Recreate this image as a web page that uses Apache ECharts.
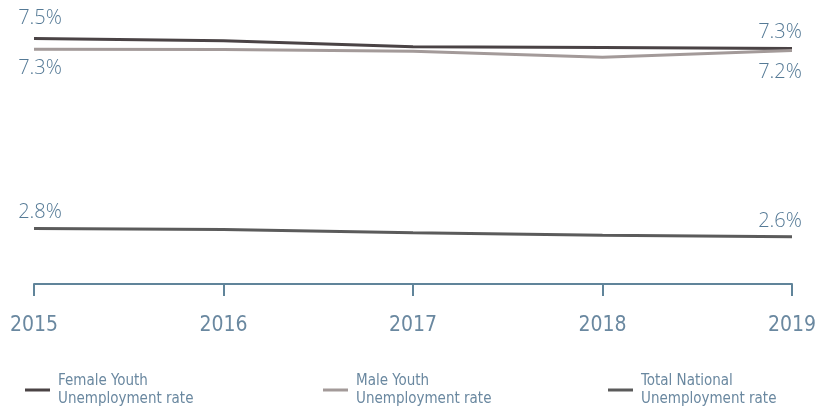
<!DOCTYPE html>
<html>
<head>
<meta charset="utf-8">
<script src="https://cdn.jsdelivr.net/npm/echarts@6/dist/echarts.min.js"></script>
<style>
  html, body { margin: 0; padding: 0; background: #fff; }
  #container { width: 816px; height: 407px; }
</style>
</head>
<body>
<div id="container"></div>
<script>
var years = ['2015', '2016', '2017', '2018', '2019'];
var femaleYouth = [7.54, 7.48, 7.33, 7.31, 7.29];
var maleYouth = [7.27, 7.26, 7.22, 7.07, 7.24];
var totalNational = [2.79, 2.76, 2.68, 2.62, 2.58];
var seriesNames = ['Female Youth\nUnemployment rate', 'Male Youth\nUnemployment rate', 'Total National\nUnemployment rate'];
var seriesColors = ['#4a4345', '#a39a99', '#5b5b5b'];

var labelColor = '#6a88a0';
var valueColor = '#557a96';
var axisColor = '#60849a';
var narrowFont = "'DejaVu Sans Condensed', 'Liberation Sans', sans-serif";

// only first and last point get a label
function pointData(values, where, gaps) {
    return values.map(function (v, i) {
        var item = { value: v };
        if (i === 0 || i === values.length - 1) {
            item.label = {
                show: true,
                position: where,
                distance: i === 0 ? gaps[0] : gaps[1],
                offset: [i === 0 ? 6 : -12, 0]
            };
        }
        return item;
    });
}

function makeSeries(idx, values, where, gaps) {
    return {
        name: seriesNames[idx],
        type: 'line',
        data: pointData(values, where, gaps),
        symbol: 'circle',
        symbolSize: 0,
        showSymbol: true,
        smooth: false,
        lineStyle: { width: 3, color: seriesColors[idx] },
        itemStyle: { color: seriesColors[idx] },
        label: {
            show: false,
            formatter: function (p) { return p.value.toFixed(1) + '%'; },
            color: valueColor,
            fontFamily: 'Open Sans',
            fontWeight: 300,
            fontSize: 20
        }
    };
}

function makeLegend(idx, left) {
    return {
        data: [seriesNames[idx]],
        left: left,
        top: 367,
        icon: 'rect',
        itemWidth: 25,
        itemHeight: 3,
        itemGap: 0,
        textStyle: {
            color: labelColor,
            fontFamily: narrowFont,
            fontSize: 15,
            lineHeight: 18,
            padding: [0, 0, 0, 3]
        },
        selectedMode: false
    };
}

var myChart = echarts.init(document.getElementById('container'));
var option = {
    animation: false,
    grid: { left: 34, right: 24, top: 20, bottom: 123, outerBoundsMode: 'none' },
    legend: [makeLegend(0, 20), makeLegend(1, 318), makeLegend(2, 603)],
    xAxis: {
        type: 'category',
        data: years,
        boundaryGap: false,
        axisLine: { lineStyle: { color: axisColor, width: 2 } },
        axisTick: { show: true, inside: false, length: 12, lineStyle: { color: axisColor, width: 2 } },
        axisLabel: {
            color: labelColor,
            fontFamily: narrowFont,
            fontSize: 21,
            margin: 31
        }
    },
    yAxis: {
        type: 'value',
        min: 1.4,
        max: 8.0,
        show: false,
        splitLine: { show: false }
    },
    series: [
        makeSeries(0, femaleYouth, 'top', [10, 6]),
        makeSeries(1, maleYouth, 'bottom', [9, 12]),
        makeSeries(2, totalNational, 'top', [6, 6])
    ]
};
myChart.setOption(option);
</script>
</body>
</html>
